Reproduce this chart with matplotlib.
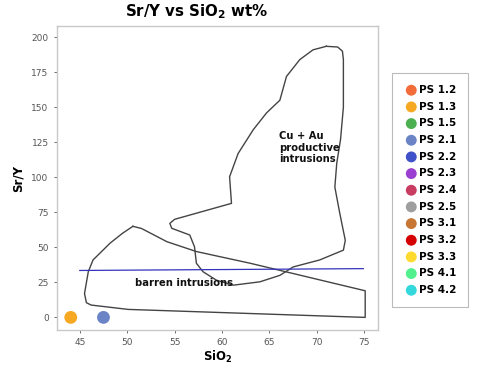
import matplotlib
matplotlib.use("Agg")
import matplotlib.pyplot as plt

# ---- data ----
groups = ["PS 1.2", "PS 1.3", "PS 1.5", "PS 2.1", "PS 2.2", "PS 2.3", "PS 2.4",
          "PS 2.5", "PS 3.1", "PS 3.2", "PS 3.3", "PS 4.1", "PS 4.2"]
colors = ["#F26B38", "#F7A823", "#4CAF50", "#6A84C6", "#3F51C9", "#9B3FD1", "#C93C62",
          "#9E9E9E", "#C77634", "#D50000", "#FFDA2E", "#52F08C", "#33D8DC"]
sio2 = {"PS 1.3": [44.05], "PS 2.1": [47.5]}
sry = {"PS 1.3": [0.0], "PS 2.1": [0.0]}

prod_x = [71.0, 72.2, 72.7, 72.8, 72.8, 72.5, 72.1, 71.9, 72.4, 73.0, 72.8, 70.3, 67.5, 66.1,
          64.0, 61.2, 59.4, 58.0, 57.3, 57.1, 56.6, 54.7, 54.5, 55.0, 61.0, 60.8, 61.7, 63.3,
          64.7, 66.1, 66.8, 68.2, 69.6, 71.0]
prod_y = [193.5, 193, 190, 184, 150, 127, 110, 93, 75, 55, 48, 41, 36, 30,
          25.4, 23, 26.6, 32.6, 38.6, 50.4, 58.8, 63.6, 67.1, 70, 81.4, 100.4, 117, 134,
          146, 155, 172, 184, 191, 193.5]

barren_x = [50.6, 51.5, 54.2, 57.3, 63.0, 75.1, 75.1, 50.1, 46.2, 45.7, 45.5, 45.9, 46.4,
            48.2, 49.5, 50.6]
barren_y = [65, 63.5, 54, 47, 38.6, 19, 0, 5.7, 8.8, 10.5, 17, 32.6, 41, 53, 60, 65]

line_x = [45.0, 74.9]
line_y = [33.5, 34.8]

xticks = [45, 50, 55, 60, 65, 70, 75]
yticks = [0, 25, 50, 75, 100, 125, 150, 175, 200]

# ---- figure ----
fig = plt.figure(figsize=(4.8, 3.65), dpi=100)
ax = fig.add_axes([57/480, 35/365, (378-57)/480, (330-26)/365])

ax.plot(prod_x, prod_y, color="#444444", lw=1.0)
ax.plot(barren_x, barren_y, color="#444444", lw=1.0)
ax.plot(line_x, line_y, color="#3333BB", lw=0.9)

for g, c in zip(groups, colors):
    ax.scatter(sio2.get(g, []), sry.get(g, []), s=85, color=c, label=g,
               edgecolors="none", zorder=3)

ax.text(66.0, 133, "Cu + Au\nproductive\nintrusions", fontsize=7.2, fontweight="bold",
        va="top", ha="left", linespacing=1.2, color="#111111")
ax.text(50.8, 24.7, "barren intrusions", fontsize=7.2, fontweight="bold",
        va="center", ha="left", color="#111111")

ax.set_xlim(42.6, 76.45)
ax.set_ylim(-9, 208)
ax.set_xticks(xticks)
ax.set_yticks(yticks)
ax.tick_params(labelsize=6.5, colors="#555555", length=2.5, width=0.6)
for sp in ax.spines.values():
    sp.set_color("#C8C8C8")
    sp.set_linewidth(1.0)

ax.set_xlabel("SiO$_\\mathbf{2}$", fontsize=8.5, fontweight="bold", labelpad=1)
ax.set_ylabel("Sr/Y", fontsize=8.5, fontweight="bold", labelpad=5)

fig.text(197/480, 1 - 12/365, "Sr/Y vs SiO$_\\mathbf{2}$ wt%", fontsize=10.8,
         fontweight="bold", ha="center", va="center")

leg = fig.legend(loc="upper left", bbox_to_anchor=(392/480, 1 - 73/365),
                 fontsize=7.5, frameon=True, fancybox=False, handletextpad=0.0,
                 labelspacing=0.64, borderpad=1.15, handlelength=1.4,
                 borderaxespad=0, markerscale=0.85)
leg.get_frame().set_edgecolor("#AAAAAA")
leg.get_frame().set_linewidth(0.8)
for t in leg.get_texts():
    t.set_fontweight("bold")

fig.savefig("out.png", dpi=100)
